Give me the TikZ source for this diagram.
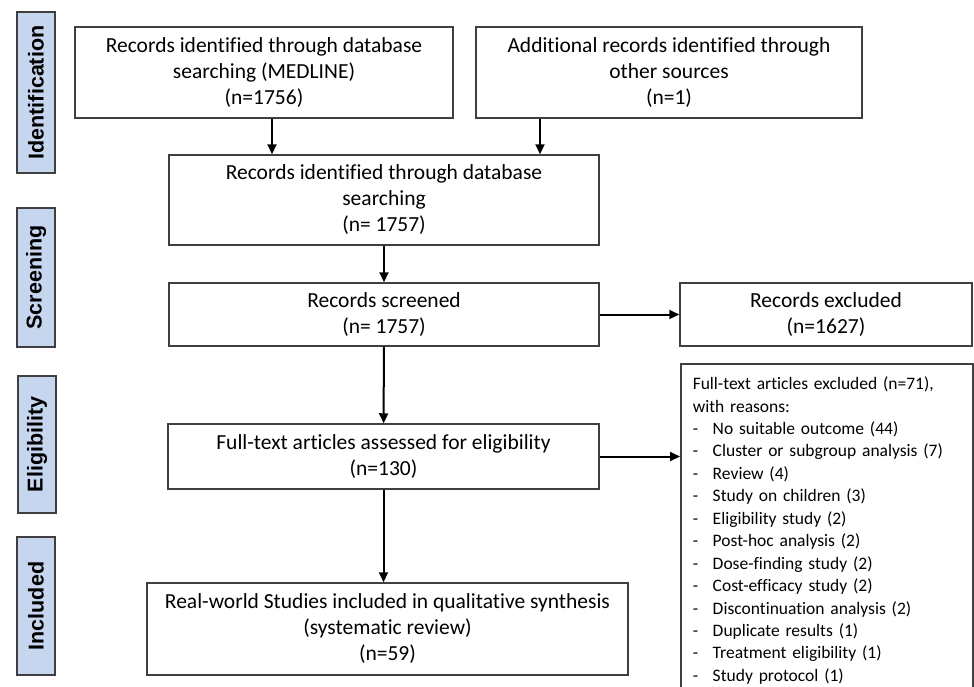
\documentclass[tikz,border=0pt]{standalone}
\usepackage{fontspec}
\setmainfont{Carlito}[Ligatures=NoCommon]
\setsansfont{Liberation Sans}
\usepackage{xcolor}
\usetikzlibrary{arrows.meta, positioning}

\definecolor{stageblue}{HTML}{C6D6EF}
\definecolor{boxgray}{HTML}{3F3F3F}

\newcommand{\xitem}[1]{\makebox[20pt][l]{-}#1}

\tikzset{
    flowbox/.style={draw=boxgray, line width=1.5pt, align=center, inner sep=2pt,
        font=\fontsize{21.5}{26}\selectfont},
    listbox/.style={draw=boxgray, line width=1.5pt, align=left, text width=268pt,
        inner xsep=12pt, inner ysep=13pt, font=\fontsize{17.5}{22.45}\selectfont},
    stagebox/.style={draw=boxgray, fill=stageblue, line width=1.6pt, rotate=90,
        minimum height=38pt, inner sep=0pt,
        font=\sffamily\bfseries\fontsize{21.5}{24}\selectfont},
    flowarr/.style={->, line width=2pt}
}

\begin{document}
\begin{tikzpicture}[>={Triangle[length=10pt,width=9pt]}, x=1pt, y=-1pt]

    \useasboundingbox (0,0) rectangle (974,686);
    \clip (0,0) rectangle (974,686);

    % =================================================================
    % 1. STAGE LABELS ON THE LEFT
    % =================================================================
    \node[stagebox, minimum width=161pt] (sIdent) at (36,92.5) {Identification};
    \node[stagebox, minimum width=139pt] (sScreen) at (36,277.5) {Screening};
    \node[stagebox, minimum width=137pt] (sElig) at (37,444.5) {Eligibility};
    \node[stagebox, minimum width=138pt] (sIncl) at (36,606) {Included};

    % =================================================================
    % 2. MAIN BOXES
    % =================================================================
    \node[flowbox, minimum width=378pt, minimum height=91pt] (srcDb) at (264,72.5)
        {Records identified through database\\ searching (MEDLINE)\\ (n=1756)};
    \node[flowbox, minimum width=386pt, minimum height=91pt] (srcOther) at (669,72.5)
        {Additional records identified through\\ other sources\\ (n=1)};
    \node[flowbox, minimum width=430pt, minimum height=90pt] (recIdent) at (384,200)
        {Records identified through database\\ searching\\ (n= 1757)};
    \node[flowbox, minimum width=430pt, minimum height=63pt] (recScreen) at (384,314.5)
        {Records screened\\ (n= 1757)};
    \node[flowbox, minimum width=431pt, minimum height=65pt] (fullText) at (383.5,456.5)
        {Full-text articles assessed for eligibility\\ (n=130)};
    \node[flowbox, minimum width=481pt, minimum height=92pt] (included) at (387.5,629)
        {Real-world Studies included in qualitative synthesis\\ (systematic review)\\ (n=59)};

    % =================================================================
    % 3. EXCLUSION BOXES
    % =================================================================
    \node[flowbox, minimum width=292pt, minimum height=63pt] (recExcl) at (826,314.5)
        {Records excluded\\ (n=1627)};
    \node[listbox, anchor=north west] (fullExcl) at (680,363)
        {Full-text articles excluded (n=71),\\
         with reasons:\\
         \xitem{No suitable outcome (44)}\\
         \xitem{Cluster or subgroup analysis (7)}\\
         \xitem{Review (4)}\\
         \xitem{Study on children (3)}\\
         \xitem{Eligibility study (2)}\\
         \xitem{Post-hoc analysis (2)}\\
         \xitem{Dose-finding study (2)}\\
         \xitem{Cost-efficacy study (2)}\\
         \xitem{Discontinuation analysis (2)}\\
         \xitem{Duplicate results (1)}\\
         \xitem{Treatment eligibility (1)}\\
         \xitem{Study protocol (1)}};

    % =================================================================
    % 4. ARROWS
    % =================================================================
    \coordinate (jDb) at (272,0);
    \coordinate (jOther) at (540,0);
    \draw[flowarr] (srcDb.south -| jDb) -- (recIdent.north -| jDb);
    \draw[flowarr] (srcOther.south -| jOther) -- (recIdent.north -| jOther);
    \draw[flowarr] (recIdent) -- (recScreen);
    \draw[flowarr] (recScreen) -- (fullText);
    \draw[flowarr] (fullText.south) -- (included.north -| fullText.south);
    \draw[flowarr] (recScreen.east) -- (recExcl.west);
    \draw[flowarr] (fullText.east) -- (fullText.east -| fullExcl.west);

\end{tikzpicture}
\end{document}
